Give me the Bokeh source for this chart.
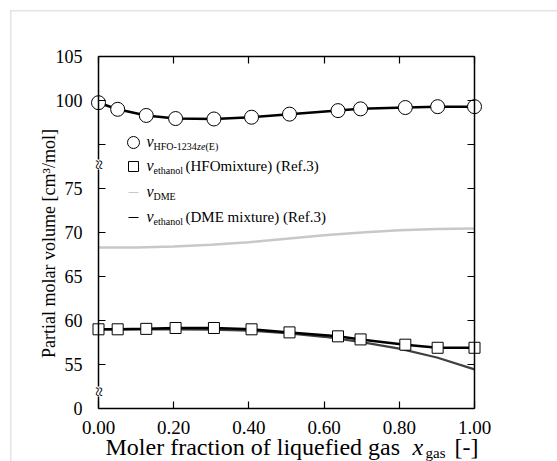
import math
from bokeh.plotting import figure
from bokeh.models import Range1d, LinearAxis, FixedTicker, Label
from bokeh.embed import file_html
from bokeh.resources import INLINE

# ---------------- data (real values) ----------------
x_gas = [0.0, 0.051, 0.127, 0.205, 0.307, 0.407, 0.508, 0.637, 0.697, 0.816, 0.902, 1.0]
v_hfo = [99.75, 99.0, 98.3, 97.95, 97.9, 98.1, 98.45, 98.85, 99.05, 99.2, 99.3, 99.3]
v_eth_hfo = [59.0, 59.0, 59.05, 59.15, 59.15, 59.0, 58.65, 58.2, 57.85, 57.25, 56.9, 56.9]

x_curve = [0.0, 0.1, 0.2, 0.3, 0.4, 0.5, 0.6, 0.7, 0.8, 0.9, 1.0]
v_dme = [68.3, 68.3, 68.4, 68.6, 68.9, 69.3, 69.7, 70.0, 70.25, 70.4, 70.45]
v_eth_dme = [59.0, 59.0, 59.0, 58.95, 58.85, 58.55, 58.15, 57.55, 56.8, 55.8, 54.45]

x_ticks = [0.0, 0.2, 0.4, 0.6, 0.8, 1.0]
x_tick_labels = ["0.00", "0.20", "0.40", "0.60", "0.80", "1.00"]
y_ticks = [0, 55, 60, 65, 70, 75, 95, 100, 105]
y_tick_labels = ["0", "55", "60", "65", "70", "75", "", "100", "105"]


# broken y axis: 0 -> 50, 55..75 unchanged, 95..105 -> 80..90
def brk(v):
    if v >= 90:
        return v - 15
    if v < 40:
        return v + 50
    return v


FONT = "Liberation Serif"
W, H = 557, 461
X0_PX, X1_PX = 98.0, 474.0      # pixel columns of x = 0 and x = 1
YB_PX, PX_PER_UNIT = 408.0, 8.8  # pixel row of the bottom (virtual 50), px per unit


def px2x(px):
    return (px - X0_PX) / (X1_PX - X0_PX)


def py2y(py):
    return 50 + (YB_PX - py) / PX_PER_UNIT


p = figure(width=W, height=H,
           x_range=Range1d(px2x(0), px2x(W)), y_range=Range1d(py2y(H), py2y(0)),
           output_backend="svg", toolbar_location=None,
           x_axis_type=None, y_axis_type=None, min_border=0)
p.min_border_left = p.min_border_right = p.min_border_top = p.min_border_bottom = 0
p.outline_line_color = None
p.border_fill_color = None
p.background_fill_color = None
p.styles = {"background-color": "white",
            "box-shadow": "inset 10px 10px 0 0 #ffffff, inset 11.5px 11.5px 0 0 #e4e4e4"}

yt_v = [brk(t) for t in y_ticks]


def style_axis(ax, ticks, labels, size):
    ax.ticker = FixedTicker(ticks=ticks)
    ax.major_label_overrides = {t: l for t, l in zip(ticks, labels)}
    ax.axis_line_color = "black"
    ax.axis_line_width = 1.5
    ax.major_tick_line_color = "black"
    ax.major_tick_line_width = 1.2
    ax.major_tick_in = 7
    ax.major_tick_out = 0
    ax.minor_tick_line_color = None
    ax.major_label_text_font = FONT
    ax.major_label_text_font_size = size
    ax.major_label_text_color = "black"


bottom = LinearAxis(fixed_location=50, bounds=(0, 1))
style_axis(bottom, x_ticks, x_tick_labels, "19px")
bottom.major_label_standoff = 12
p.add_layout(bottom, "below")

top = LinearAxis(fixed_location=90, bounds=(0, 1))
style_axis(top, x_ticks, [""] * len(x_ticks), "19px")
p.add_layout(top, "above")

left = LinearAxis(fixed_location=0, bounds=(50, 90))
style_axis(left, yt_v, y_tick_labels, "18px")
left.major_label_standoff = 16
p.add_layout(left, "left")

right = LinearAxis(fixed_location=1, bounds=(50, 90))
style_axis(right, yt_v, [""] * len(yt_v), "18px")
p.add_layout(right, "right")

# ---------------- series ----------------
p.line(x_curve, [brk(v) for v in v_dme], line_color="#c8c8c8", line_width=2.5)
p.line(x_curve, [brk(v) for v in v_eth_dme], line_color="#404040", line_width=2.2)
p.line(x_gas, [brk(v) for v in v_eth_hfo], line_color="black", line_width=2.5)
p.line(x_gas, [brk(v) for v in v_hfo], line_color="black", line_width=2.5)
p.scatter(x_gas, [brk(v) for v in v_eth_hfo], marker="square", size=11,
          fill_color="white", line_color="black", line_width=1)
p.scatter(x_gas, [brk(v) for v in v_hfo], marker="circle", size=14,
          fill_color="white", line_color="black", line_width=1)


# ---------------- annotations (pixel positions -> data) ----------------
def lab(text, px, base_py, size, style="normal", **kw):
    """Place text whose alphabetic baseline sits at pixel row base_py."""
    kw.setdefault("text_baseline", "middle")
    cy = base_py - 0.34 * size if kw["text_baseline"] == "middle" and "angle" not in kw else base_py
    p.add_layout(Label(x=px2x(px), y=py2y(cy), text=text, text_font=FONT,
                       text_font_size=f"{size}px", text_font_style=style,
                       text_color="black", **kw))


# legend samples
p.scatter([px2x(133)], [py2y(142)], marker="circle", size=12,
          fill_color="white", line_color="black", line_width=1)
p.scatter([px2x(133)], [py2y(166)], marker="square", size=10,
          fill_color="white", line_color="black", line_width=1)
p.line([px2x(128), px2x(138)], [py2y(192), py2y(192)], line_color="#c8c8c8", line_width=1)
p.line([px2x(128), px2x(138)], [py2y(217), py2y(217)], line_color="black", line_width=1.2)

rows = [142, 166, 192, 217]
for r in rows:
    lab("v", 146, r + 4, 16, "italic")
lab("HFO-1234", 153, rows[0] + 7.5, 10)
lab("ze", 196.5, rows[0] + 7.5, 10, "italic")
lab("(E)", 205, rows[0] + 7.5, 10)
lab("ethanol", 153, rows[1] + 7.5, 10)
lab("(HFOmixture) (Ref.3)", 185, rows[1] + 5, 15)
lab("DME", 153, rows[2] + 7.5, 10)
lab("ethanol", 153, rows[3] + 7.5, 10)
lab("(DME mixture) (Ref.3)", 185, rows[3] + 5, 15)

# axis titles
lab("Partial molar volume [cm\u00b3/mol]", 48, 243, 18, angle=math.pi / 2,
    text_align="center")
lab("Moler fraction of liquefied gas", 105, 455, 24)
lab("x", 412, 455, 24, "italic")
lab("gas", 425, 457.5, 15)
lab("[-]", 454, 455, 24)

# axis break marks
for by in [164, 391]:
    lab("\u2248", 98, by, 18, angle=math.pi / 2, text_align="center",
        background_fill_color="white")

open("out.html", "w").write(file_html(p, INLINE))
